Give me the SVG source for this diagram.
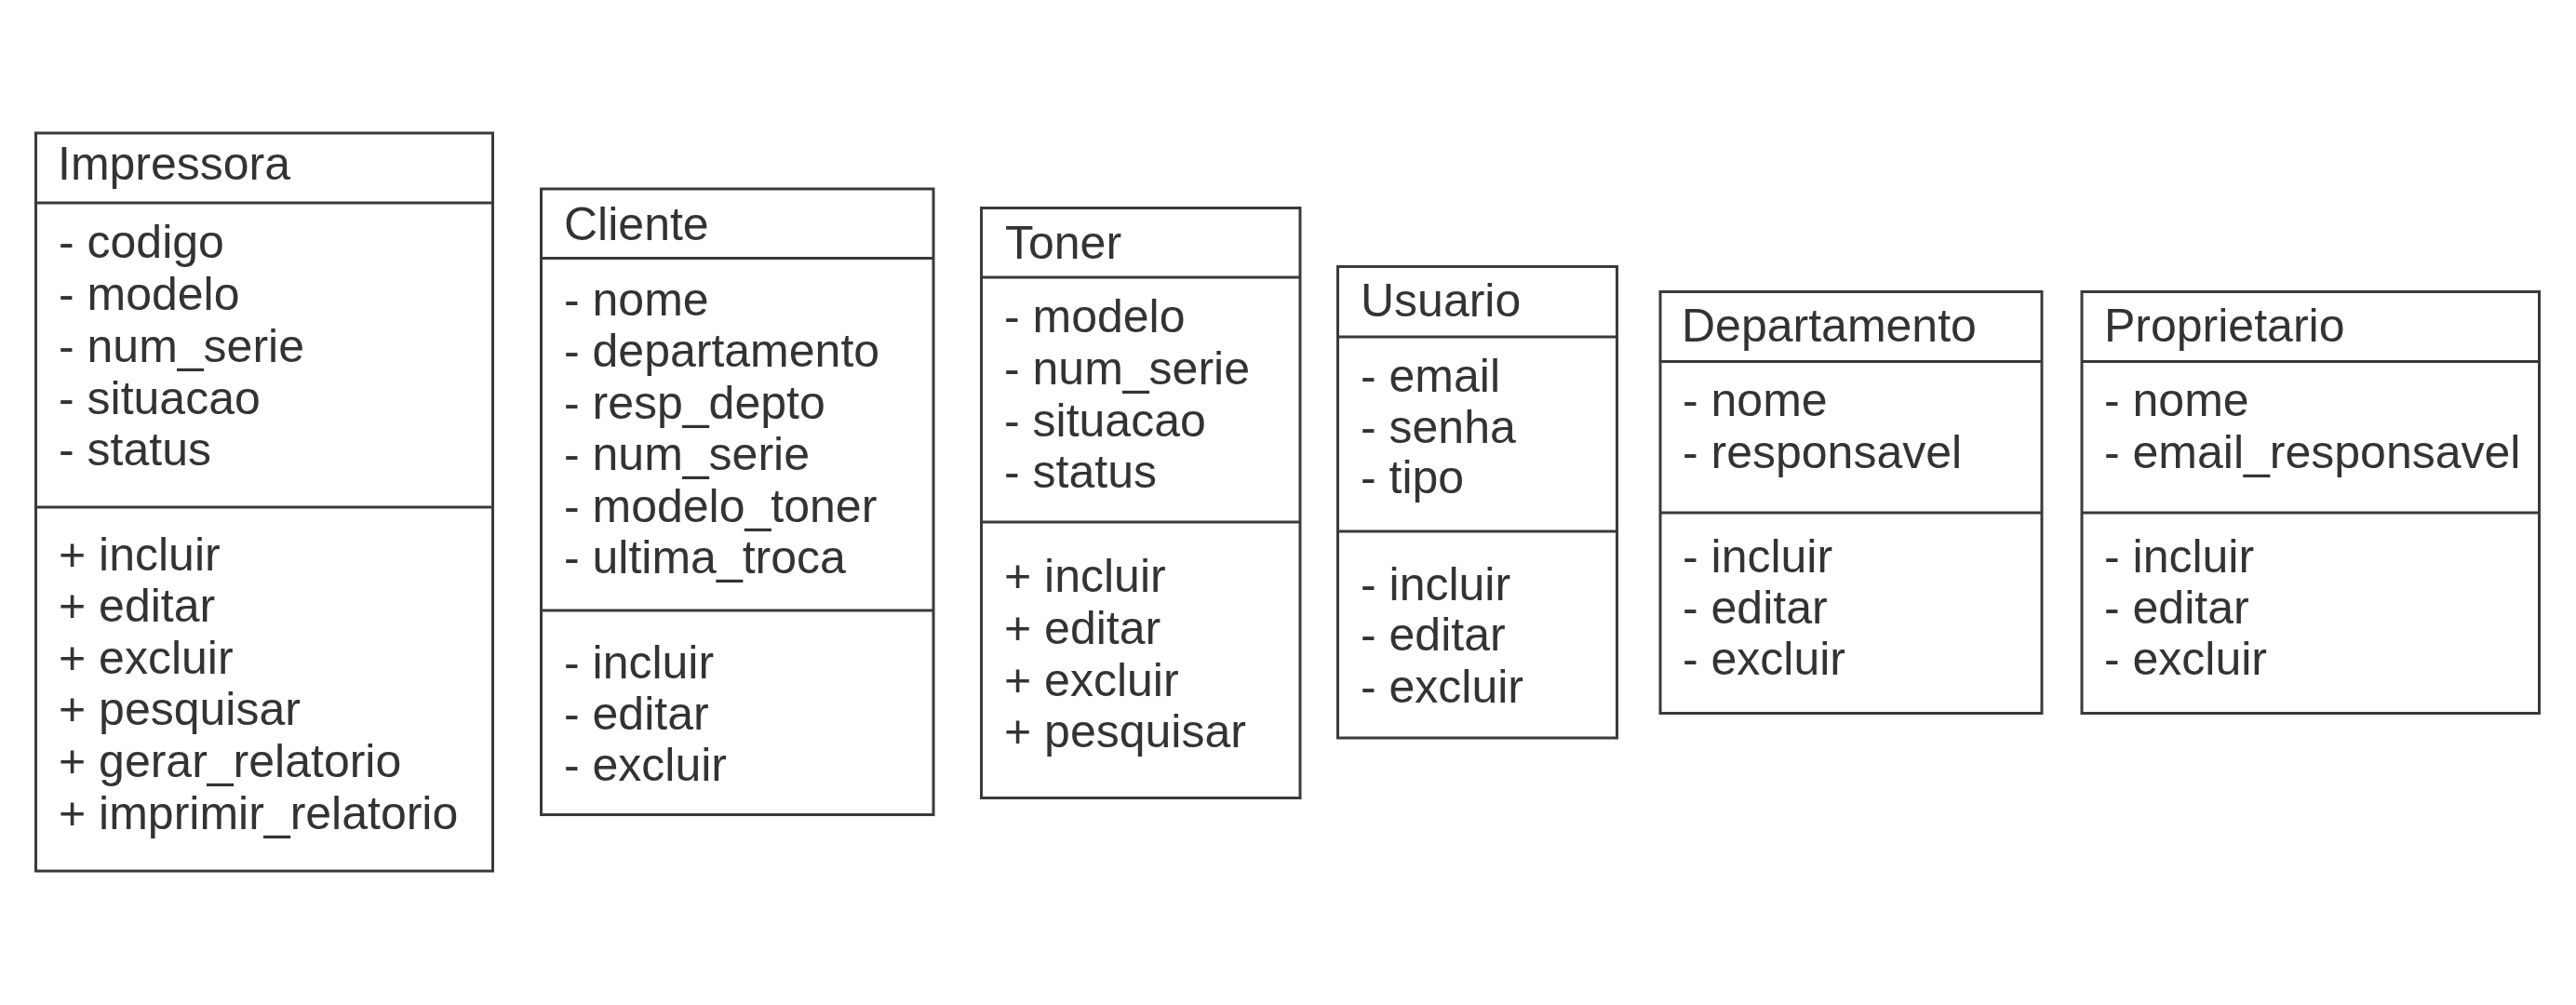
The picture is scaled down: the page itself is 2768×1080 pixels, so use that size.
<svg xmlns="http://www.w3.org/2000/svg" width="2768" height="1080" viewBox="0 0 2768 1080">
<style>
.box{fill:#ffffff;stroke:#3a3a3a;stroke-width:3}
.div{stroke:#3a3a3a;stroke-width:3}
.t{font-family:"Liberation Sans",Arial,Helvetica,sans-serif;font-size:50px;fill:#333333}
</style>
<rect x="0" y="0" width="2768" height="1080" fill="#ffffff"/>
<g id="impressora">
<rect class="box" x="38.5" y="143" width="491" height="793"/>
<line class="div" x1="38.5" y1="218" x2="529.5" y2="218"/>
<line class="div" x1="38.5" y1="545" x2="529.5" y2="545"/>
<text class="t" x="62" y="193">Impressora</text>
<text class="t">
<tspan x="63" y="277">- codigo</tspan>
<tspan x="63" y="333">- modelo</tspan>
<tspan x="63" y="389">- num_serie</tspan>
<tspan x="63" y="445">- situacao</tspan>
<tspan x="63" y="500">- status</tspan>
</text>
<text class="t">
<tspan x="63" y="613">+ incluir</tspan>
<tspan x="63" y="668">+ editar</tspan>
<tspan x="63" y="724">+ excluir</tspan>
<tspan x="63" y="779">+ pesquisar</tspan>
<tspan x="63" y="835">+ gerar_relatorio</tspan>
<tspan x="63" y="891">+ imprimir_relatorio</tspan>
</text>
</g>
<g id="cliente">
<rect class="box" x="581.5" y="203" width="421.5" height="672.5"/>
<line class="div" x1="581.5" y1="277.5" x2="1003" y2="277.5"/>
<line class="div" x1="581.5" y1="656" x2="1003" y2="656"/>
<text class="t" x="606" y="258">Cliente</text>
<text class="t">
<tspan x="606" y="338.5">- nome</tspan>
<tspan x="606" y="394">- departamento</tspan>
<tspan x="606" y="449.5">- resp_depto</tspan>
<tspan x="606" y="505">- num_serie</tspan>
<tspan x="606" y="560.5">- modelo_toner</tspan>
<tspan x="606" y="616">- ultima_troca</tspan>
</text>
<text class="t">
<tspan x="606" y="728.5">- incluir</tspan>
<tspan x="606" y="784">- editar</tspan>
<tspan x="606" y="839">- excluir</tspan>
</text>
</g>
<g id="toner">
<rect class="box" x="1054.5" y="223.5" width="342.5" height="634"/>
<line class="div" x1="1054.5" y1="298" x2="1397" y2="298"/>
<line class="div" x1="1054.5" y1="561" x2="1397" y2="561"/>
<text class="t" x="1080" y="278">Toner</text>
<text class="t">
<tspan x="1079" y="357">- modelo</tspan>
<tspan x="1079" y="412.5">- num_serie</tspan>
<tspan x="1079" y="468.5">- situacao</tspan>
<tspan x="1079" y="524">- status</tspan>
</text>
<text class="t">
<tspan x="1079" y="636">+ incluir</tspan>
<tspan x="1079" y="692">+ editar</tspan>
<tspan x="1079" y="748">+ excluir</tspan>
<tspan x="1079" y="803">+ pesquisar</tspan>
</text>
</g>
<g id="usuario">
<rect class="box" x="1437.5" y="286.5" width="300" height="506.5"/>
<line class="div" x1="1437.5" y1="362" x2="1737.5" y2="362"/>
<line class="div" x1="1437.5" y1="571" x2="1737.5" y2="571"/>
<text class="t" x="1462" y="340">Usuario</text>
<text class="t">
<tspan x="1462" y="421">- email</tspan>
<tspan x="1462" y="476">- senha</tspan>
<tspan x="1462" y="530">- tipo</tspan>
</text>
<text class="t">
<tspan x="1462" y="644.5">- incluir</tspan>
<tspan x="1462" y="699">- editar</tspan>
<tspan x="1462" y="755">- excluir</tspan>
</text>
</g>
<g id="departamento">
<rect class="box" x="1784" y="313.5" width="410" height="453"/>
<line class="div" x1="1784" y1="388.5" x2="2194" y2="388.5"/>
<line class="div" x1="1784" y1="551" x2="2194" y2="551"/>
<text class="t" x="1807" y="367">Departamento</text>
<text class="t">
<tspan x="1808" y="447">- nome</tspan>
<tspan x="1808" y="503">- responsavel</tspan>
</text>
<text class="t">
<tspan x="1808" y="615">- incluir</tspan>
<tspan x="1808" y="670">- editar</tspan>
<tspan x="1808" y="725">- excluir</tspan>
</text>
</g>
<g id="proprietario">
<rect class="box" x="2237" y="313.5" width="491.5" height="453"/>
<line class="div" x1="2237" y1="388.5" x2="2728.5" y2="388.5"/>
<line class="div" x1="2237" y1="551" x2="2728.5" y2="551"/>
<text class="t" x="2261" y="367">Proprietario</text>
<text class="t">
<tspan x="2261" y="447">- nome</tspan>
<tspan x="2261" y="503">- email_responsavel</tspan>
</text>
<text class="t">
<tspan x="2261" y="615">- incluir</tspan>
<tspan x="2261" y="670">- editar</tspan>
<tspan x="2261" y="725">- excluir</tspan>
</text>
</g>
<g id="connectors"></g>
</svg>
